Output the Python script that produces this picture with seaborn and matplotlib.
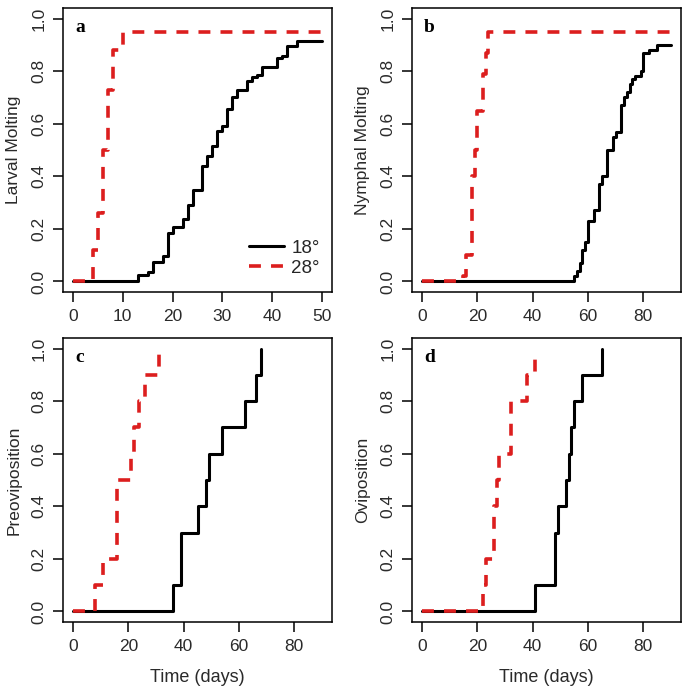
import numpy as np
import pandas as pd
import matplotlib
matplotlib.use("Agg")
import matplotlib.pyplot as plt
import seaborn as sns

# ---- data (cumulative proportion vs. day) ----
larval_days_18 = [0, 13, 15, 16, 18, 19, 20, 22, 23, 24, 26, 27, 28, 29, 30, 31,
                  32, 33, 35, 36, 37, 38, 41, 42, 43, 45, 50]
larval_prop_18 = [0, 0.023, 0.036, 0.074, 0.096, 0.186, 0.208, 0.237, 0.29, 0.348,
                  0.441, 0.478, 0.517, 0.571, 0.592, 0.657, 0.702, 0.73, 0.764,
                  0.778, 0.787, 0.817, 0.848, 0.857, 0.896, 0.915, 0.915]
larval_days_28 = [0, 4, 5, 6, 7, 8, 10, 50]
larval_prop_28 = [0, 0.12, 0.26, 0.50, 0.73, 0.88, 0.95, 0.95]

nymph_days_18 = [0, 55, 56, 57, 58, 59, 60, 62, 64, 65, 67, 69, 70, 72, 73, 74,
                 75, 76, 77, 79, 80, 82, 85, 90]
nymph_prop_18 = [0, 0.02, 0.04, 0.07, 0.12, 0.15, 0.23, 0.27, 0.37, 0.40, 0.50,
                 0.55, 0.57, 0.67, 0.70, 0.72, 0.75, 0.77, 0.78, 0.80, 0.87, 0.88,
                 0.90, 0.90]
nymph_days_28 = [0, 15, 16, 18, 19, 20, 22, 23, 24, 90]
nymph_prop_28 = [0, 0.02, 0.10, 0.40, 0.50, 0.65, 0.79, 0.87, 0.95, 0.95]

prev_days_18 = [0, 36, 39, 45, 48, 49, 54, 62, 66, 68]
prev_prop_18 = [0, 0.1, 0.3, 0.4, 0.5, 0.6, 0.7, 0.8, 0.9, 1.0]
prev_days_28 = [0, 8, 11, 16, 21, 22, 24, 26, 31]
prev_prop_28 = [0, 0.1, 0.2, 0.5, 0.6, 0.7, 0.8, 0.9, 1.0]

ovi_days_18 = [0, 41, 48, 49, 52, 53, 54, 55, 58, 65]
ovi_prop_18 = [0, 0.1, 0.3, 0.4, 0.5, 0.6, 0.7, 0.8, 0.9, 1.0]
ovi_days_28 = [0, 22, 23, 26, 27, 28, 32, 38, 41]
ovi_prop_28 = [0, 0.1, 0.2, 0.4, 0.5, 0.6, 0.8, 0.9, 0.96]

panels = [
    ("a", "Larval Molting", 50, [0, 10, 20, 30, 40, 50],
     (larval_days_18, larval_prop_18), (larval_days_28, larval_prop_28)),
    ("b", "Nymphal Molting", 90, [0, 20, 40, 60, 80],
     (nymph_days_18, nymph_prop_18), (nymph_days_28, nymph_prop_28)),
    ("c", "Preoviposition", 90, [0, 20, 40, 60, 80],
     (prev_days_18, prev_prop_18), (prev_days_28, prev_prop_28)),
    ("d", "Oviposition", 90, [0, 20, 40, 60, 80],
     (ovi_days_18, ovi_prop_18), (ovi_days_28, ovi_prop_28)),
]
y_ticks = [0.0, 0.2, 0.4, 0.6, 0.8, 1.0]

sns.set_style("ticks")
plt.rcParams["font.family"] = ["Liberation Sans", "DejaVu Sans"]
TXT = "#2a2a2a"
RED = "#dc1e1e"

fig = plt.figure(figsize=(6.85, 6.89), dpi=100)
fig.patch.set_facecolor("white")

W, H = 685, 689
rects = {
    "a": (63, 8, 332, 292),
    "b": (412, 8, 681, 292),
    "c": (63, 338, 332, 622),
    "d": (412, 338, 681, 622),
}

for letter, ylab, xmax, xticks, s18, s28 in panels:
    l, t, r, b = rects[letter]
    ax = fig.add_axes([l / W, 1 - b / H, (r - l) / W, (b - t) / H])
    ax.set_facecolor("white")

    sns.lineplot(x=s18[0], y=s18[1], ax=ax, color="black", lw=2.2,
                 drawstyle="steps-post", sort=False, estimator=None,
                 legend=False, label="18\u00b0")
    sns.lineplot(x=s28[0], y=s28[1], ax=ax, color=RED, lw=2.6,
                 linestyle=(0, (3.3, 2.8)), drawstyle="steps-post",
                 sort=False, estimator=None, legend=False, label="28\u00b0")

    pad = 0.04 * xmax
    ax.set_xlim(-pad, xmax + pad)
    ax.set_ylim(-0.04, 1.04)
    ax.set_xticks(xticks)
    ax.set_yticks(y_ticks)
    ax.set_yticklabels([f"{v:.1f}" for v in y_ticks], rotation=90, va="center")
    ax.tick_params(axis="both", length=7, width=1.1, color="black",
                   labelsize=12.5, labelcolor=TXT, pad=5)
    for sp in ax.spines.values():
        sp.set_visible(True)
        sp.set_color("black")
        sp.set_linewidth(1.1)

    ax.set_ylabel(ylab, fontsize=12.5, color=TXT)
    ax.yaxis.set_label_coords(-0.155, 0.5)
    if letter in ("c", "d"):
        ax.set_xlabel("Time (days)", fontsize=13, color=TXT)
        ax.xaxis.set_label_coords(0.5, -0.165)
    else:
        ax.set_xlabel("")

    ax.text(0.045, 0.96, letter, transform=ax.transAxes, fontsize=14,
            fontweight="bold", family="Liberation Serif", va="top", ha="left",
            color="black")

    if letter == "a":
        ax.legend(loc="lower right", bbox_to_anchor=(1.01, 0.0), frameon=False,
                  fontsize=13.5, handlelength=1.85, handletextpad=0.4,
                  labelspacing=0.15, borderpad=0.3)

fig.savefig("out.png", dpi=100, facecolor="white")
